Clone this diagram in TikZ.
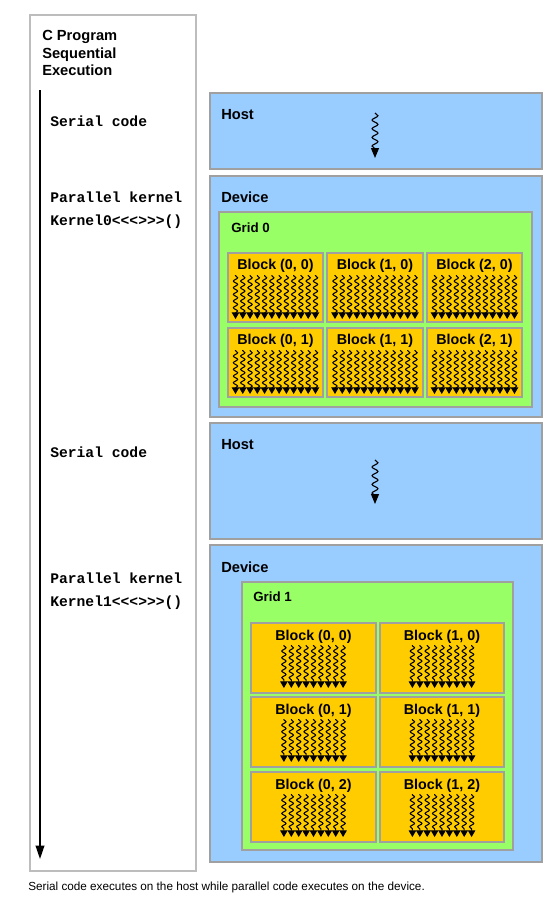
\documentclass[tikz,border=0pt]{standalone}
\usepackage{fontspec}
\setmainfont{Liberation Sans}
\setmonofont{Liberation Mono}
\usetikzlibrary{decorations.pathmorphing,arrows.meta}
\definecolor{hostblue}{HTML}{99CCFF}
\definecolor{gridgreen}{HTML}{99FF66}
\definecolor{blockgold}{HTML}{FFCC00}
\definecolor{edgegrey}{HTML}{A0A0A0}
\definecolor{leftgrey}{HTML}{BDBDBD}
\newcommand\pxbox[6]{%
  \node[#2, minimum width={(#5-#3)*0.75pt}, minimum height={(#6-#4)*0.75pt}] (#1) at ({(#3+#5)/2},{(#4+#6)/2}) {};}
\tikzset{
  panel/.style={draw=edgegrey, line width=1pt, inner sep=0pt, outer sep=0pt, rectangle},
  hostbox/.style={panel, fill=hostblue},
  gridbox/.style={panel, fill=gridgreen},
  blockbox/.style={panel, fill=blockgold},
  progbox/.style={draw=leftgrey, line width=1pt, fill=white, inner sep=0pt, outer sep=0pt, rectangle},
  paneltitle/.style={anchor=west, inner sep=0pt, font=\bfseries\fontsize{11pt}{13pt}\selectfont},
  gridtitle/.style={anchor=west, inner sep=0pt, font=\bfseries\fontsize{10pt}{12pt}\selectfont},
  blocklabel/.style={inner sep=0pt, font=\bfseries\fontsize{10.7pt}{12pt}\selectfont},
  codetext/.style={anchor=west, inner sep=0pt, font=\ttfamily\bfseries\fontsize{11pt}{13pt}\selectfont},
  squig/.style={line width=0.8pt, decorate, decoration={snake, amplitude=1.6pt, segment length=5pt, post length=4pt, pre length=0.5pt}, -{Triangle[length=5pt, width=5.6pt]}},
  hostsquig/.style={line width=0.85pt, decorate, decoration={snake, amplitude=2.2pt, segment length=6.5pt, post length=6pt}, -{Triangle[length=7.5pt, width=6pt]}},
}
\begin{document}
\begin{tikzpicture}[x=0.75pt, y=-0.75pt]
\path[fill=white] (0,0) rectangle (558,908);
\useasboundingbox (0,0) rectangle (558,908);
% left program box
\pxbox{prog}{progbox}{30}{15}{196}{871}
\node[anchor=north west, inner sep=0pt, align=left, font=\bfseries\fontsize{11pt}{13.2pt}\selectfont] (progtitle) at (42,30) {C Program\\Sequential\\Execution};
\coordinate (tstart) at (40,90);
\coordinate (tend) at (40,859);
\draw[line width=1.1pt, -{Triangle[length=10pt, width=6.5pt]}] (tstart) -- (tend);
\node[codetext] (s1) at (50,121) {Serial code};
\node[codetext] (p1) at (50,197) {Parallel kernel};
\node[codetext] (k1) at (50,222) {Kernel0<<<>>>()};
\node[codetext] (s2) at (50,452) {Serial code};
\node[codetext] (p2) at (50,578) {Parallel kernel};
\node[codetext] (k2) at (50,603) {Kernel1<<<>>>()};
% host 1
\pxbox{host1}{hostbox}{210}{93}{542}{169}
\node[paneltitle] (host1t) at (221,114.5) {Host};
\draw[hostsquig] (375,113) -- (375,158);
% device 1
\pxbox{dev1}{hostbox}{210}{176}{542}{417}
\node[paneltitle] (dev1t) at (221,197.5) {Device};
\pxbox{grid0}{gridbox}{219}{212}{532}{407}
\node[gridtitle] (grid0t) at (231,228) {Grid 0};
\foreach \c/\xa/\xb in {0/228/323,1/327/423,2/427/522}{
  \foreach \r/\ya/\yb in {0/253/322,1/328/397}{
    \pxbox{ga\c\r}{blockbox}{\xa}{\ya}{\xb}{\yb}
    \node[blocklabel] (gal\c\r) at ({(\xa+\xb)/2},{\ya+12.5}) {Block (\c, \r)};
    \foreach \i in {0,...,11}{
      \draw[squig] ({(\xa+\xb)/2-40+\i*7.27},{\ya+22}) -- ++(0,44);
    }
  }
}
% host 2
\pxbox{host2}{hostbox}{210}{423}{542}{539}
\node[paneltitle] (host2t) at (221,444.5) {Host};
\draw[hostsquig] (375,460) -- (375,504);
% device 2
\pxbox{dev2}{hostbox}{210}{545}{542}{862}
\node[paneltitle] (dev2t) at (221,567.5) {Device};
\pxbox{grid1}{gridbox}{242}{582}{513}{850}
\node[gridtitle] (grid1t) at (253,597) {Grid 1};
\foreach \c/\xa/\xb in {0/251/376,1/380/504}{
  \foreach \r/\ya/\yb in {0/623/693,1/697/767,2/772/842}{
    \pxbox{gb\c\r}{blockbox}{\xa}{\ya}{\xb}{\yb}
    \node[blocklabel] (gbl\c\r) at ({(\xa+\xb)/2},{\ya+14}) {Block (\c, \r)};
    \foreach \i in {0,...,8}{
      \draw[squig] ({(\xa+\xb)/2-29.6+\i*7.4},{\ya+22}) -- ++(0,43);
    }
  }
}
% caption
\node[anchor=west, inner sep=0pt, font=\fontsize{8.8pt}{10pt}\selectfont] (caption) at (28,887) {Serial code executes on the host while parallel code executes on the device.};
\end{tikzpicture}
\end{document}
